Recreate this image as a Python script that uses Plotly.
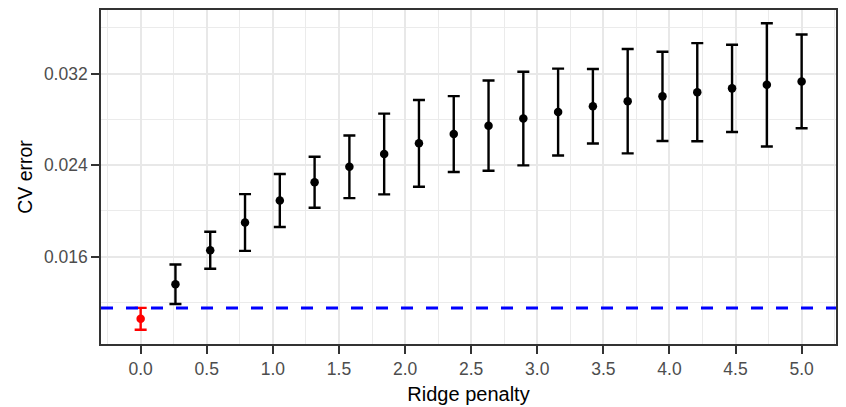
import plotly.graph_objects as go

penalty = [i * 5 / 19 for i in range(20)]
cv_mean = [0.01055, 0.01358, 0.01655, 0.01898, 0.02090, 0.02250, 0.02385, 0.02497,
           0.02590, 0.02671, 0.02745, 0.02807, 0.02864, 0.02915, 0.02959, 0.03001,
           0.03038, 0.03071, 0.03102, 0.03132]
cv_se = [0.00096, 0.00173, 0.00162, 0.00248, 0.00232, 0.00223, 0.00274, 0.00353,
         0.00379, 0.00332, 0.00395, 0.00410, 0.00380, 0.00326, 0.00457, 0.00390,
         0.00429, 0.00381, 0.00539, 0.00410]
threshold = 0.01150
x_ticks = [0.0, 0.5, 1.0, 1.5, 2.0, 2.5, 3.0, 3.5, 4.0, 4.5, 5.0]
y_ticks = [0.016, 0.024, 0.032]

fig = go.Figure()
fig.add_shape(type="line", xref="paper", yref="y", x0=0, x1=1, y0=threshold, y1=threshold,
              line=dict(color="#0000FF", width=2.8, dash="12px,13px"), layer="above")
fig.add_trace(go.Scatter(x=penalty[1:], y=cv_mean[1:], mode="markers",
                         marker=dict(color="black", size=8.5),
                         error_y=dict(type="data", array=cv_se[1:], color="black",
                                      thickness=2.4, width=6),
                         showlegend=False))
fig.add_trace(go.Scatter(x=penalty[:1], y=cv_mean[:1], mode="markers",
                         marker=dict(color="red", size=8.5),
                         error_y=dict(type="data", array=cv_se[:1], color="red",
                                      thickness=2.4, width=6),
                         showlegend=False))

font_fam = "Liberation Sans, Arial, sans-serif"
fig.update_layout(
    width=838, height=399,
    margin=dict(l=93, r=10, t=0, b=63),
    paper_bgcolor="white", plot_bgcolor="white",
    font=dict(family=font_fam),
    xaxis=dict(range=[-0.30, 5.26], tickvals=x_ticks, ticktext=[f"{v:.1f}" for v in x_ticks],
               showgrid=True, gridcolor="#E8E8E8", gridwidth=1.6,
               minor=dict(dtick=0.25, showgrid=True, gridcolor="#EBEBEB", gridwidth=1),
               ticks="outside", ticklen=8, tickwidth=2, tickcolor="#333333",
               tickfont=dict(size=17.5, color="#4D4D4D"),
               showline=True, linecolor="#333333", linewidth=1.6, mirror=True,
               zeroline=False,
               title=dict(text="Ridge penalty", font=dict(size=20, color="black"), standoff=9)),
    yaxis=dict(range=[0.00835, 0.037565], tickvals=y_ticks, ticktext=[f"{v:.3f}" for v in y_ticks],
               showgrid=True, gridcolor="#E8E8E8", gridwidth=1.6,
               minor=dict(tickvals=[0.012, 0.020, 0.028, 0.036], showgrid=True,
                          gridcolor="#EBEBEB", gridwidth=1),
               ticks="outside", ticklen=8, tickwidth=2, tickcolor="#333333",
               tickfont=dict(size=17.5, color="#4D4D4D"),
               showline=True, linecolor="#333333", linewidth=1.6, mirror=True,
               zeroline=False,
               title=dict(text="CV error", font=dict(size=19.5, color="black"), standoff=6)),
)

fig.write_html("out.html")
